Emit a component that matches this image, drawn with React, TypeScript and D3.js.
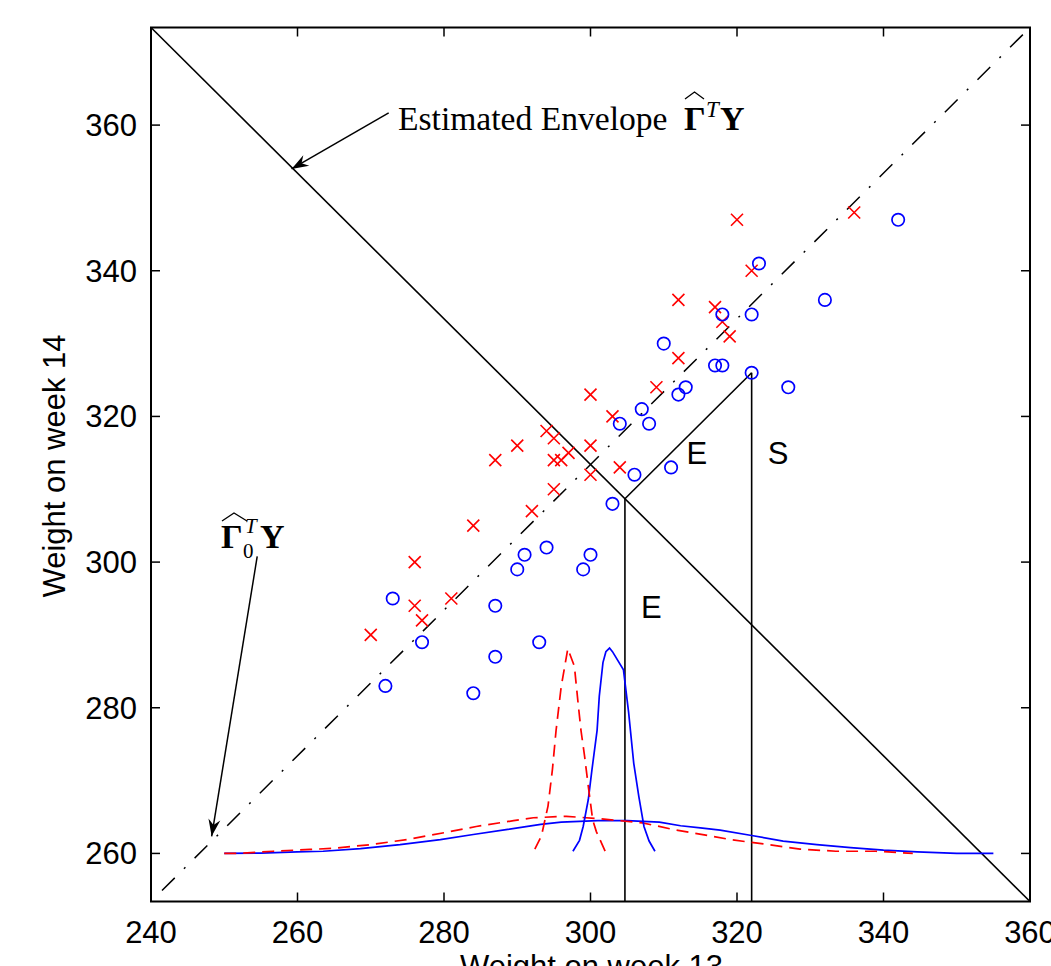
import React from "react";
import * as d3 from "d3";

// axis setup
const xDomain = [240, 360];
const yDomain = [253.4, 373.4];
const xTicks = [240, 260, 280, 300, 320, 340, 360];
const yTicks = [260, 280, 300, 320, 340, 360];

// observations (week 13, week 14) for the two groups
const redX = [270, 276, 276, 277, 281, 284, 287, 290, 292, 294, 295, 295, 296, 297, 295, 300, 300, 300, 303, 304, 309, 312, 312, 317, 318, 319, 320, 322, 336];
const redY = [290, 300, 294, 292, 295, 305, 314, 316, 307, 318, 317, 314, 314, 315, 310, 323, 316, 312, 320, 313, 324, 336, 328, 335, 333, 331, 347, 340, 348];
const blueX = [272, 273, 277, 284, 287, 287, 290, 291, 293, 294, 299, 300, 303, 304, 306, 307, 308, 310, 311, 312, 313, 317, 318, 318, 322, 322, 323, 327, 332, 342];
const blueY = [283, 295, 289, 282, 294, 287, 299, 301, 289, 302, 299, 301, 308, 319, 312, 321, 319, 330, 313, 323, 324, 327, 327, 334, 334, 326, 341, 324, 336, 347];

// envelope direction and its complement
const envX = [240, 360];
const envY = [373.4, 253.4];
const diagX = [241.5, 360];
const diagY = [254.9, 373.4];
const projPoint = [322, 326];

// density curves drawn at the bottom
const blueWideX = [250, 255, 260, 263.5, 268.6, 274, 279.5, 284, 288.7, 293.2, 296, 301, 305, 309.4, 312.3, 315, 317.7, 321.8, 326.3, 330.9, 335.5, 340, 344.6, 350, 355];
const blueWideY = [260, 260.05, 260.2, 260.3, 260.65, 261.2, 261.9, 262.6, 263.3, 264.0, 264.3, 264.5, 264.5, 264.3, 263.8, 263.5, 263.2, 262.5, 261.7, 261.2, 260.8, 260.45, 260.2, 260, 260];
const redWideX = [250, 252, 256.7, 261.7, 264.8, 269.9, 274.9, 279.8, 284.4, 289.5, 292.2, 296.7, 301.4, 307.1, 311.7, 316.4, 319.1, 323.6, 328.6, 333.5, 339, 344];
const redWideY = [260, 260, 260.3, 260.55, 260.7, 261.2, 261.9, 262.8, 263.7, 264.5, 264.9, 265.1, 264.75, 264.2, 263.2, 262.4, 261.9, 261.3, 260.6, 260.3, 260.3, 260];
const blueNarrowX = [297.6, 298.5, 299.0, 299.7, 300.2, 300.9, 301.2, 301.7, 302.1, 302.6, 303.0, 304.5, 305.2, 305.9, 306.6, 307.3, 308.0, 308.8];
const blueNarrowY = [260.3, 261.8, 263.7, 267.4, 271.5, 276.9, 281.6, 286.2, 287.7, 288.2, 287.7, 285.2, 279.4, 272.4, 267.8, 263.7, 261.7, 260.3];
const redNarrowX = [292.4, 293.3, 294.2, 294.8, 295.3, 296.0, 296.9, 297.8, 298.3, 298.7, 299.2, 299.7, 300.3, 300.8, 302.0];
const redNarrowY = [260.6, 262.4, 266.5, 271.5, 276.9, 282.9, 288.1, 285.7, 280.7, 276.9, 273.3, 269.2, 264.6, 263.0, 260.3];

// annotation arrows: [x0, y0, x1(tip), y1(tip)] in data units
const arrowEnv = [272.45, 361.67, 259.19, 353.98];
const arrowComp = [254.5, 300.78, 248.28, 262.35];

const W = 1051;
const H = 966;
const margin = { left: 151, right: 21, top: 27.5, bottom: 64.5 };
const sans = "'Liberation Sans', Arial, Helvetica, sans-serif";
const serif = "'Liberation Serif', 'Times New Roman', serif";

const zip = (a: number[], b: number[]) => a.map((v, i) => [v, b[i]] as [number, number]);

function Arrow({ pts, x, y }: { pts: number[]; x: any; y: any }) {
  const x0 = x(pts[0]), y0 = y(pts[1]), x1 = x(pts[2]), y1 = y(pts[3]);
  const ang = (Math.atan2(y1 - y0, x1 - x0) * 180) / Math.PI;
  return (
    <g>
      <line x1={x0} y1={y0} x2={x1} y2={y1} stroke="#000" strokeWidth={1.5} />
      <path d="M0,0 L-17,-6 L-11.5,0 L-17,6 Z" fill="#000" transform={`translate(${x1},${y1}) rotate(${ang})`} />
    </g>
  );
}

export default function App() {
  const x = d3.scaleLinear().domain(xDomain).range([margin.left, W - margin.right]);
  const y = d3.scaleLinear().domain(yDomain).range([H - margin.bottom, margin.top]);
  const line = d3.line<[number, number]>().x(d => x(d[0])).y(d => y(d[1]));

  const x0 = x(xDomain[0]), x1 = x(xDomain[1]);
  const yb = y(yDomain[0]), yt = y(yDomain[1]);

  // foot of projection of the chosen point onto the envelope line (x + y = c)
  const c = envX[0] + envY[0];
  const t = (projPoint[0] + projPoint[1] - c) / 2;
  const foot: [number, number] = [projPoint[0] - t, projPoint[1] - t];

  const reds = zip(redX, redY);
  const blues = zip(blueX, blueY);

  return (
    <div style={{ position: "absolute", left: 0, top: 0 }}>
      <svg width={W} height={H} style={{ display: "block", background: "#fff" }}>
        {/* envelope line and complement */}
        <path d={line(zip(envX, envY)) || ""} fill="none" stroke="#000" strokeWidth={1.6} />
        <path d={line(zip(diagX, diagY)) || ""} fill="none" stroke="#000" strokeWidth={1.5} strokeDasharray="18,13,2,13" />

        {/* projections */}
        <path d={line([foot, projPoint as [number, number]]) || ""} fill="none" stroke="#000" strokeWidth={1.6} />
        <path d={line([foot, [foot[0], yDomain[0]]]) || ""} fill="none" stroke="#000" strokeWidth={1.6} />
        <path d={line([projPoint as [number, number], [projPoint[0], yDomain[0]]]) || ""} fill="none" stroke="#000" strokeWidth={1.6} />

        {/* densities */}
        <path d={line(zip(blueWideX, blueWideY)) || ""} fill="none" stroke="#0000ff" strokeWidth={1.7} />
        <path d={line(zip(redWideX, redWideY)) || ""} fill="none" stroke="#ff0000" strokeWidth={1.7} strokeDasharray="12,7" />
        <path d={line(zip(blueNarrowX, blueNarrowY)) || ""} fill="none" stroke="#0000ff" strokeWidth={1.7} />
        <path d={line(zip(redNarrowX, redNarrowY)) || ""} fill="none" stroke="#ff0000" strokeWidth={1.7} strokeDasharray="12,7" />

        {/* points */}
        {reds.map((d, i) => (
          <path key={"r" + i} d={`M${x(d[0]) - 6},${y(d[1]) - 6}L${x(d[0]) + 6},${y(d[1]) + 6}M${x(d[0]) - 6},${y(d[1]) + 6}L${x(d[0]) + 6},${y(d[1]) - 6}`} stroke="#ff0000" strokeWidth={1.6} fill="none" />
        ))}
        {blues.map((d, i) => (
          <circle key={"b" + i} cx={x(d[0])} cy={y(d[1])} r={6.2} stroke="#0000ff" strokeWidth={1.7} fill="none" />
        ))}

        {/* frame with inward ticks */}
        <rect x={x0} y={yt} width={x1 - x0} height={yb - yt} fill="none" stroke="#000" strokeWidth={2} />
        {xTicks.map(v => (
          <g key={"xt" + v}>
            <line x1={x(v)} x2={x(v)} y1={yb} y2={yb - 9} stroke="#000" strokeWidth={1.5} />
            <line x1={x(v)} x2={x(v)} y1={yt} y2={yt + 9} stroke="#000" strokeWidth={1.5} />
            <text x={x(v)} y={yb + 41} textAnchor="middle" fontFamily={sans} fontSize={31}>{v}</text>
          </g>
        ))}
        {yTicks.map(v => (
          <g key={"yt" + v}>
            <line x1={x0} x2={x0 + 9} y1={y(v)} y2={y(v)} stroke="#000" strokeWidth={1.5} />
            <line x1={x1} x2={x1 - 9} y1={y(v)} y2={y(v)} stroke="#000" strokeWidth={1.5} />
            <text x={x0 - 14} y={y(v) + 11} textAnchor="end" fontFamily={sans} fontSize={31}>{v}</text>
          </g>
        ))}

        {/* axis titles */}
        <text x={(x0 + x1) / 2 + 1} y={977} textAnchor="middle" fontFamily={sans} fontSize={31}>Weight on week 13</text>
        <text transform={`translate(65,466) rotate(-90)`} textAnchor="middle" fontFamily={sans} fontSize={31}>Weight on week 14</text>

        {/* projection labels */}
        <text x={x(313.1)} y={y(313.5)} fontFamily={sans} fontSize={31}>E</text>
        <text x={x(324.2)} y={y(313.5)} fontFamily={sans} fontSize={31}>S</text>
        <text x={x(306.9)} y={y(292.3)} fontFamily={sans} fontSize={31}>E</text>

        {/* annotations */}
        <Arrow pts={arrowEnv} x={x} y={y} />
        <Arrow pts={arrowComp} x={x} y={y} />

        <text x={398} y={130} fontFamily={serif} fontSize={33.6}>Estimated Envelope</text>
        <text x={684} y={130} fontFamily={serif} fontSize={34} fontWeight="bold">Γ</text>
        <path d="M685,99 L694.5,92 L704,99" fill="none" stroke="#000" strokeWidth={1.3} />
        <text x={706} y={117} fontFamily={serif} fontSize={23} fontStyle="italic">T</text>
        <text x={720} y={130} fontFamily={serif} fontSize={34} fontWeight="bold">Y</text>

        <text x={221} y={548} fontFamily={serif} fontSize={34} fontWeight="bold">Γ</text>
        <path d="M222,521 L234,513 L247,521" fill="none" stroke="#000" strokeWidth={1.3} />
        <text x={245} y={533} fontFamily={serif} fontSize={21} fontStyle="italic">T</text>
        <text x={243} y={558} fontFamily={serif} fontSize={21}>0</text>
        <text x={260} y={548} fontFamily={serif} fontSize={34} fontWeight="bold">Y</text>
      </svg>
    </div>
  );
}
